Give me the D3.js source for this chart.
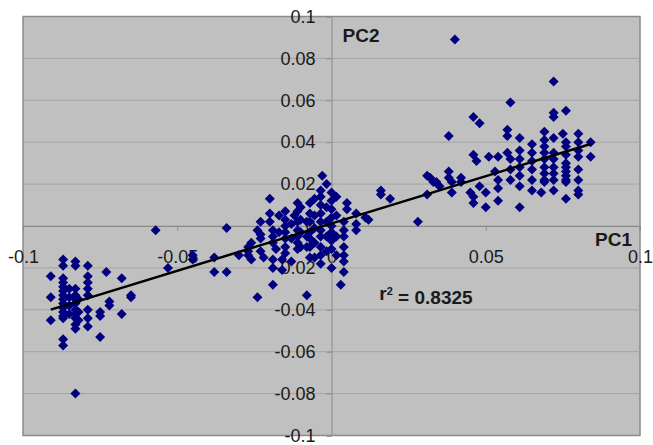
<!DOCTYPE html>
<html>
<head>
<meta charset="utf-8">
<script src="https://cdn.jsdelivr.net/npm/d3@7"></script>
<style>
    body { margin: 0; background: #fff; }
    svg { display: block; font-family: Arial, "Liberation Sans", sans-serif; }
</style>
</head>
<body>
<svg id="chart"></svg>
<script>
'use strict';

// tick values and their labels
const xTicks = [-0.1, -0.05, 0, 0.05, 0.1];
const xTickLabels = ['-0.1', '-0.05', '0', '0.05', '0.1'];
const yTicks = [-0.1, -0.08, -0.06, -0.04, -0.02, 0, 0.02, 0.04, 0.06, 0.08, 0.1];
const yTickLabels = ['-0.1', '-0.08', '-0.06', '-0.04', '-0.02', '0', '0.02', '0.04', '0.06', '0.08', '0.1'];

// [PC1, PC2] scores
const groupLeft = [
    [-0.091, -0.024], [-0.091, -0.034], [-0.091, -0.045],
    [-0.087, -0.016], [-0.087, -0.019], [-0.087, -0.025], [-0.087, -0.027], [-0.087, -0.029], [-0.087, -0.031],
    [-0.087, -0.033], [-0.087, -0.035], [-0.087, -0.037], [-0.087, -0.039], [-0.087, -0.041], [-0.087, -0.043],
    [-0.087, -0.044], [-0.087, -0.054], [-0.087, -0.057],
    [-0.085, -0.030], [-0.085, -0.034], [-0.085, -0.038], [-0.085, -0.042],
    [-0.083, -0.017], [-0.083, -0.019], [-0.083, -0.030], [-0.083, -0.033], [-0.083, -0.035], [-0.083, -0.037],
    [-0.083, -0.040], [-0.083, -0.042], [-0.083, -0.044], [-0.083, -0.047], [-0.083, -0.049], [-0.083, -0.080],
    [-0.082, -0.035], [-0.082, -0.041], [-0.082, -0.045],
    [-0.079, -0.019], [-0.079, -0.024], [-0.079, -0.027], [-0.079, -0.030], [-0.079, -0.033], [-0.079, -0.040],
    [-0.079, -0.044], [-0.079, -0.048],
    [-0.075, -0.041], [-0.075, -0.043], [-0.075, -0.053],
    [-0.073, -0.022], [-0.072, -0.036], [-0.072, -0.038],
    [-0.068, -0.025], [-0.068, -0.042], [-0.065, -0.033], [-0.065, -0.034]
];

const groupMiddle = [
    [-0.057, -0.002], [-0.053, -0.020], [-0.045, -0.014], [-0.045, -0.016], [-0.038, -0.015], [-0.038, -0.022],
    [-0.034, -0.001], [-0.034, -0.022], [-0.030, -0.014], [-0.027, -0.010], [-0.027, -0.014], [-0.026, -0.016],
    [-0.024, -0.034], [-0.019, -0.028], [0.003, -0.028], [-0.008, -0.033],
    [-0.020, 0.013], [-0.020, 0.006], [-0.015, 0.007], [-0.011, 0.011], [-0.011, 0.007], [-0.015, 0.003],
    [-0.023, 0.002], [-0.020, 0.002],
    [-0.024, -0.002], [-0.023, -0.004], [-0.023, -0.006], [-0.019, -0.002], [-0.019, -0.005], [-0.019, -0.008],
    [-0.018, -0.011],
    [-0.015, 0.000], [-0.015, -0.003], [-0.015, -0.006], [-0.015, -0.010], [-0.015, -0.013],
    [-0.012, 0.005], [-0.011, 0.002], [-0.011, -0.002], [-0.011, -0.005], [-0.011, -0.008], [-0.011, -0.011],
    [-0.008, 0.002], [-0.008, -0.005], [-0.008, -0.010],
    [-0.026, -0.008], [-0.027, -0.012], [-0.023, -0.012], [-0.022, -0.015], [-0.019, -0.016], [-0.019, -0.020],
    [-0.016, -0.016], [-0.016, -0.021], [-0.013, -0.017],
    [-0.003, 0.024],
    [-0.0035, 0.017], [-0.0035, 0.014], [-0.0035, 0.010], [-0.0035, 0.006], [-0.0035, 0.002], [-0.0035, -0.002],
    [-0.0035, -0.005], [-0.0035, -0.010], [-0.0035, -0.014], [-0.0035, -0.018],
    [0, 0.016], [0, 0.012], [0, 0.008], [0, 0.004], [0, 0], [0, -0.003], [0, -0.007], [0, -0.011], [0, -0.020],
    [-0.007, 0.011], [-0.007, 0.006], [-0.007, 0.002], [-0.007, -0.003], [-0.007, -0.006], [-0.007, -0.010],
    [-0.007, -0.015],
    [-0.010, 0.009], [-0.010, 0.003], [-0.010, -0.003], [-0.010, -0.010],
    [0.005, 0.011], [0.005, 0.008],
    [0.004, 0.002], [0.004, -0.002], [0.004, -0.005], [0.004, -0.010], [0.004, -0.014], [0.004, -0.017],
    [0.004, -0.022],
    [0.008, 0.006], [0.008, 0.001], [0.012, 0.003], [0.008, -0.002], [0.011, 0.004],
    [-0.0055, 0.013], [-0.0055, 0.005], [-0.0055, -0.001], [-0.0055, -0.008], [-0.0055, -0.015],
    [-0.0016, 0.020], [-0.0016, 0.009], [-0.0016, 0.002], [-0.0016, -0.005], [-0.0016, -0.012],
    [0.0016, 0.014], [0.0016, 0.005], [0.0016, -0.005], [0.0016, -0.014],
    [-0.013, 0.001], [-0.013, -0.006], [-0.017, 0.005], [-0.017, -0.003]
];

const groupBridge = [
    [0.016, 0.017], [0.016, 0.015], [0.019, 0.013], [0.028, 0.002], [0.031, 0.024], [0.032, 0.023],
    [0.033, 0.021], [0.034, 0.021], [0.035, 0.019], [0.031, 0.015], [0.038, 0.026], [0.038, 0.023],
    [0.039, 0.021], [0.039, 0.016], [0.042, 0.023], [0.042, 0.021], [0.038, 0.043], [0.040, 0.089]
];

const groupRight = [
    [0.046, 0.034], [0.047, 0.031], [0.045, 0.016], [0.046, 0.014], [0.046, 0.011], [0.048, 0.019],
    [0.050, 0.016], [0.050, 0.009],
    [0.072, 0.069], [0.058, 0.059], [0.046, 0.052], [0.048, 0.049], [0.072, 0.054], [0.072, 0.052], [0.076, 0.055],
    [0.057, 0.046], [0.057, 0.043], [0.069, 0.045], [0.075, 0.044], [0.080, 0.044], [0.061, 0.042], [0.065, 0.039],
    [0.069, 0.041], [0.069, 0.038], [0.072, 0.042], [0.076, 0.040], [0.080, 0.040], [0.084, 0.040],
    [0.051, 0.033], [0.054, 0.033], [0.057, 0.035], [0.058, 0.032], [0.061, 0.036], [0.061, 0.032],
    [0.065, 0.035], [0.065, 0.031],
    [0.069, 0.035], [0.069, 0.032], [0.069, 0.028], [0.069, 0.025], [0.069, 0.022],
    [0.072, 0.035], [0.072, 0.032], [0.072, 0.028], [0.072, 0.025],
    [0.076, 0.034], [0.076, 0.030], [0.076, 0.026], [0.076, 0.022],
    [0.080, 0.033], [0.080, 0.027], [0.084, 0.033],
    [0.053, 0.026], [0.054, 0.022], [0.054, 0.018], [0.058, 0.027], [0.058, 0.022], [0.061, 0.028],
    [0.061, 0.024], [0.061, 0.019], [0.065, 0.027], [0.065, 0.022], [0.065, 0.017],
    [0.069, 0.021], [0.072, 0.022], [0.076, 0.021], [0.080, 0.022], [0.080, 0.017],
    [0.054, 0.012], [0.068, 0.016], [0.072, 0.017], [0.076, 0.013], [0.080, 0.015], [0.061, 0.009],
    [0.076, 0.038], [0.076, 0.028], [0.076, 0.024], [0.080, 0.036]
];

const rSquaredText = '0.8325';

(function () {
    const d3 = window.d3;
    const width = 653;
    const height = 445;
    const plot = { left: 23, right: 640, top: 16.5, bottom: 435.5 };

    const points = groupLeft.concat(groupMiddle, groupBridge, groupRight);

    const svg = d3.select('#chart')
        .attr('width', width)
        .attr('height', height);

    const x = d3.scaleLinear()
        .domain([-0.1, 0.1])
        .range([plot.left, plot.right]);

    const y = d3.scaleLinear()
        .domain([-0.1, 0.1])
        .range([plot.bottom, plot.top]);

    // plot area
    svg.append('rect')
        .attr('x', plot.left)
        .attr('y', plot.top)
        .attr('width', plot.right - plot.left)
        .attr('height', plot.bottom - plot.top)
        .attr('fill', '#c0c0c0')
        .attr('stroke', '#8a8a8a')
        .attr('stroke-width', 1.5);

    // horizontal grid lines
    svg.append('g')
        .selectAll('line')
        .data(yTicks.filter(d => Math.abs(d) < 0.099))
        .enter().append('line')
        .attr('x1', plot.left)
        .attr('x2', plot.right)
        .attr('y1', d => y(d))
        .attr('y2', d => y(d))
        .attr('stroke', '#a4a4a4')
        .attr('stroke-width', 1);

    // axes crossing at the origin
    const xAxis = d3.axisBottom(x)
        .tickValues(xTicks)
        .tickFormat((d, i) => xTickLabels[i])
        .tickSize(5)
        .tickPadding(19);

    const yAxis = d3.axisLeft(y)
        .tickValues(yTicks)
        .tickFormat((d, i) => yTickLabels[i])
        .tickSize(5)
        .tickPadding(11);

    const gx = svg.append('g')
        .attr('transform', 'translate(0,' + y(0) + ')')
        .call(xAxis);
    const gy = svg.append('g')
        .attr('transform', 'translate(' + x(0) + ',0)')
        .call(yAxis);

    [gx, gy].forEach(g => {
        g.select('.domain').attr('stroke', '#8a8a8a');
        g.selectAll('.tick line').attr('stroke', '#8a8a8a');
        g.selectAll('.tick text')
            .attr('fill', '#1a1a1a')
            .attr('font-size', '18px')
            .attr('font-family', 'Arial, "Liberation Sans", sans-serif');
    });

    // least squares trend line
    const mx = d3.mean(points, d => d[0]);
    const my = d3.mean(points, d => d[1]);
    const sxy = d3.sum(points, d => (d[0] - mx) * (d[1] - my));
    const sxx = d3.sum(points, d => (d[0] - mx) * (d[0] - mx));
    const slope = sxy / sxx;
    const intercept = my - slope * mx;
    const xExtent = d3.extent(points, d => d[0]);

    const diamond = d3.symbol().type(d3.symbolSquare).size(50);

    svg.append('g')
        .selectAll('path')
        .data(points)
        .enter().append('path')
        .attr('d', diamond)
        .attr('transform', d => 'translate(' + x(d[0]) + ',' + y(d[1]) + ') rotate(45)')
        .attr('fill', '#000080');

    const line = d3.line()
        .x(d => x(d))
        .y(d => y(slope * d + intercept));

    svg.append('path')
        .datum(xExtent)
        .attr('d', line)
        .attr('fill', 'none')
        .attr('stroke', '#000')
        .attr('stroke-width', 2.5);

    // labels
    const labels = svg.append('g')
        .attr('font-weight', 'bold')
        .attr('font-size', '19px')
        .attr('fill', '#1a1a1a');

    labels.append('text')
        .attr('x', x(0) + 11)
        .attr('y', y(0.088))
        .text('PC2');

    labels.append('text')
        .attr('x', x(0.1) - 8)
        .attr('y', y(0))
        .attr('dy', '1.05em')
        .attr('text-anchor', 'end')
        .text('PC1');

    const r2 = labels.append('text')
        .attr('x', x(0.0155))
        .attr('y', y(-0.0355));
    r2.append('tspan').text('r');
    r2.append('tspan')
        .attr('dy', '-0.5em')
        .attr('font-size', '11px')
        .text('2');
    r2.append('tspan')
        .attr('dy', '0.5em')
        .text(' = ' + rSquaredText);
}());
</script>
</body>
</html>
